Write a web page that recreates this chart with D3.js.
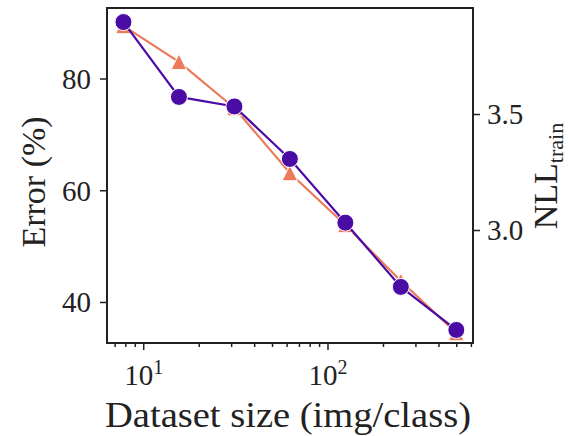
<!DOCTYPE html>
<html>
<head>
<meta charset="utf-8">
<script src="https://cdn.jsdelivr.net/npm/d3@7"></script>
<style>
  body { margin: 0; background: #fff; }
  svg { display: block; }
  text { font-family: "Liberation Serif", "DejaVu Serif", serif; fill: #222; }
</style>
</head>
<body>
<svg id="chart" width="568" height="436"></svg>
<script>
// Training-set size (images per class) and the two measured curves
const datasetSize = [7.8125, 15.625, 31.25, 62.5, 125, 250, 500];
const errorPct    = [90.1, 76.7, 75.0, 65.6, 54.2, 42.7, 35.0];
const nllTrain    = [3.88, 3.725, 3.526, 3.246, 3.022, 2.78, 2.556];

const errorTicks  = [40, 60, 80];
const nllTicks    = [3.0, 3.5];
const xMajorTicks = [10, 100];
const xMinorTicks = [7, 8, 9, 20, 30, 40, 50, 60, 70, 80, 90, 200, 300, 400, 500, 600];

const purple = "#4b0ca6";
const orange = "#ec7a5b";
const ink = "#222";

const plot = { left: 107, right: 473, top: 8, bottom: 343 };

const svg = d3.select("#chart");

const x = d3.scaleLog().domain([6.36, 616]).range([plot.left, plot.right]);
const yErr = d3.scaleLinear().domain([32.66, 92.62]).range([plot.bottom, plot.top]);
const yNll = d3.scaleLinear().domain([2.513, 3.957]).range([plot.bottom, plot.top]);

const rows = datasetSize.map((s, i) => ({ s, err: errorPct[i], nll: nllTrain[i] }));

// NLL curve (orange, triangles)
svg.append("path")
  .datum(rows)
  .attr("fill", "none")
  .attr("stroke", orange)
  .attr("stroke-width", 2.2)
  .attr("d", d3.line().x(d => x(d.s)).y(d => yNll(d.nll)));

const tri = 7.8;
svg.append("g").selectAll("path")
  .data(rows)
  .join("path")
  .attr("transform", d => `translate(${x(d.s)},${yNll(d.nll)})`)
  .attr("d", `M0,${-tri}L${tri},${tri}L${-tri},${tri}Z`)
  .attr("fill", orange)
  .attr("stroke", "#fff")
  .attr("stroke-width", 1);

// Error curve (purple, circles)
svg.append("path")
  .datum(rows)
  .attr("fill", "none")
  .attr("stroke", purple)
  .attr("stroke-width", 2.2)
  .attr("d", d3.line().x(d => x(d.s)).y(d => yErr(d.err)));

svg.append("g").selectAll("circle")
  .data(rows)
  .join("circle")
  .attr("cx", d => x(d.s))
  .attr("cy", d => yErr(d.err))
  .attr("r", 8.5)
  .attr("fill", purple)
  .attr("stroke", "#fff")
  .attr("stroke-width", 1);

// Axes
function styleAxis(g) {
  g.select(".domain").remove();
  g.selectAll(".tick line").attr("stroke", ink).attr("stroke-width", 1.5);
  g.selectAll(".tick text").attr("fill", ink).style("font-size", "29px");
}

svg.append("g")
  .attr("transform", `translate(${plot.left},0)`)
  .call(d3.axisLeft(yErr).tickValues(errorTicks).tickSize(7).tickPadding(9).tickFormat(d3.format("d")))
  .call(styleAxis)
  .selectAll(".tick text").attr("dy", "0.34em");

svg.append("g")
  .attr("transform", `translate(${plot.right},0)`)
  .call(d3.axisRight(yNll).tickValues(nllTicks).tickSize(7).tickPadding(7).tickFormat(d3.format(".1f")))
  .call(styleAxis)
  .selectAll(".tick text").attr("dy", "0.34em");

svg.append("g")
  .attr("transform", `translate(0,${plot.bottom})`)
  .call(d3.axisBottom(x).tickValues(xMinorTicks).tickSize(4).tickFormat(""))
  .call(styleAxis);

const xMajor = svg.append("g")
  .attr("transform", `translate(0,${plot.bottom})`)
  .call(d3.axisBottom(x).tickValues(xMajorTicks).tickSize(7).tickFormat(""))
  .call(styleAxis);

xMajor.selectAll(".tick text")
  .attr("y", 42).attr("dy", 0)
  .each(function(d) {
    const t = d3.select(this);
    t.text(null);
    t.append("tspan").text("10");
    t.append("tspan").attr("dy", -11).style("font-size", "20px").text(Math.round(Math.log10(d)));
  });

// Frame
svg.append("rect")
  .attr("x", plot.left).attr("y", plot.top)
  .attr("width", plot.right - plot.left).attr("height", plot.bottom - plot.top)
  .attr("fill", "none").attr("stroke", ink).attr("stroke-width", 2);

// Axis titles
svg.append("text")
  .attr("x", 288).attr("y", 427)
  .attr("text-anchor", "middle")
  .attr("textLength", 366)
  .attr("lengthAdjust", "spacingAndGlyphs")
  .style("font-size", "35px")
  .text("Dataset size (img/class)");

svg.append("text")
  .attr("transform", `translate(45,182) rotate(-90)`)
  .attr("text-anchor", "middle")
  .style("font-size", "34px")
  .text("Error (%)");

const nllLabel = svg.append("text")
  .attr("transform", `translate(557,176) rotate(-90)`)
  .attr("text-anchor", "middle")
  .style("font-size", "34px");
nllLabel.append("tspan").text("NLL");
nllLabel.append("tspan").attr("dy", 6).style("font-size", "22px").text("train");
</script>
</body>
</html>
